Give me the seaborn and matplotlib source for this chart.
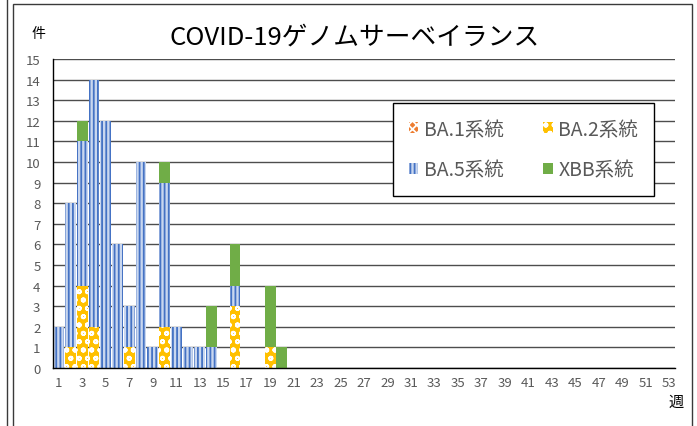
# COVID-19ゲノムサーベイランス: 週別の系統別件数 (積み上げ棒グラフ)

import pandas as pd
import matplotlib
matplotlib.use("Agg")
import matplotlib.pyplot as plt
from matplotlib.patches import Patch, Rectangle
from matplotlib.lines import Line2D
import seaborn as sns

# データ (週 1-53)
weeks = list(range(1, 54))
ba1 = [0, 0, 0, 0, 0, 0, 0, 0, 0, 0, 0, 0, 0, 0, 0, 0, 0, 0, 0, 0,
       0, 0, 0, 0, 0, 0, 0, 0, 0, 0, 0, 0, 0, 0, 0, 0, 0, 0, 0, 0,
       0, 0, 0, 0, 0, 0, 0, 0, 0, 0, 0, 0, 0]
ba2 = [0, 1, 4, 2, 0, 0, 1, 0, 0, 2, 0, 0, 0, 0, 0, 3, 0, 0, 1, 0,
       0, 0, 0, 0, 0, 0, 0, 0, 0, 0, 0, 0, 0, 0, 0, 0, 0, 0, 0, 0,
       0, 0, 0, 0, 0, 0, 0, 0, 0, 0, 0, 0, 0]
ba5 = [2, 7, 7, 12, 12, 6, 2, 10, 1, 7, 2, 1, 1, 1, 0, 1, 0, 0, 0, 0,
       0, 0, 0, 0, 0, 0, 0, 0, 0, 0, 0, 0, 0, 0, 0, 0, 0, 0, 0, 0,
       0, 0, 0, 0, 0, 0, 0, 0, 0, 0, 0, 0, 0]
xbb = [0, 0, 1, 0, 0, 0, 0, 0, 0, 1, 0, 0, 0, 2, 0, 2, 0, 0, 3, 1,
       0, 0, 0, 0, 0, 0, 0, 0, 0, 0, 0, 0, 0, 0, 0, 0, 0, 0, 0, 0,
       0, 0, 0, 0, 0, 0, 0, 0, 0, 0, 0, 0, 0]
series_labels = ["BA.1系統", "BA.2系統", "BA.5系統", "XBB系統"]

sns.set_style("white")
plt.rcParams['font.family'] = ['Noto Sans CJK JP', 'DejaVu Sans']
plt.rcParams['hatch.linewidth'] = 1.3

df = pd.DataFrame({'週': weeks, 'BA.1': ba1, 'BA.2': ba2, 'BA.5': ba5, 'XBB': xbb})
# 累積値 (上に重ねて描く)
df['c1'] = df['BA.1']
df['c2'] = df['c1'] + df['BA.2']
df['c3'] = df['c2'] + df['BA.5']
df['c4'] = df['c3'] + df['XBB']

fig = plt.figure(figsize=(6.97, 4.27), dpi=100)
ax = fig.add_axes([53 / 697, 1 - 369 / 427, 622 / 697, 309 / 427])

# (列, 塗り色, ハッチ色, ハッチ)
styles = [
    ('c4', '#70AD47', '#70AD47', None),
    ('c3', '#C9D7EF', '#4472C4', '||||'),
    ('c2', '#FFC000', 'white', 'oo'),
    ('c1', '#ED7D31', 'white', 'xxxx'),
]
for col, fc, ec, hatch in styles:
    sns.barplot(data=df, x='週', y=col, order=weeks, color=fc, saturation=1,
                width=0.92, errorbar=None, ax=ax)
    for p in ax.containers[-1]:
        p.set_facecolor(fc)
        p.set_edgecolor(ec)
        p.set_hatch(hatch)
        p.set_linewidth(0)

ax.set_ylim(0, 15)
ax.set_xlim(-0.5, 52.5)
ax.set_yticks(range(0, 16))
ax.set_xticks(range(0, 53, 2))
ax.set_xticklabels([str(w) for w in weeks[::2]])
ax.set_xlabel('')
ax.set_ylabel('')
ax.tick_params(length=0, labelsize=9.5, labelcolor='#595959')
ax.tick_params(axis='x', pad=6)
ax.tick_params(axis='y', pad=9)
ax.yaxis.grid(True, color='#4d4d4d', lw=1)
ax.set_axisbelow(True)
for s in ['top', 'right']:
    ax.spines[s].set_visible(False)
for s in ['left', 'bottom']:
    ax.spines[s].set_color('black')
    ax.spines[s].set_linewidth(1)

# タイトルと軸ラベル
fig.text(355 / 697, 1 - 38 / 427, 'COVID-19ゲノムサーベイランス', ha='center', va='center',
         fontsize=18.5, color='black')
fig.text(38 / 697, 1 - 34 / 427, '件', ha='center', va='center', fontsize=10, color='black')
fig.text(676 / 697, 1 - 402 / 427, '週', ha='center', va='center', fontsize=11, color='black')

# 凡例
handles = [
    Patch(facecolor='#ED7D31', edgecolor='white', hatch='xxxx', lw=0),
    Patch(facecolor='#C9D7EF', edgecolor='#4472C4', hatch='||||', lw=0),
    Patch(facecolor='#FFC000', edgecolor='white', hatch='oo', lw=0),
    Patch(facecolor='#70AD47', edgecolor='#70AD47', lw=0),
]
labels = [series_labels[0], series_labels[2], series_labels[1], series_labels[3]]
leg = fig.legend(handles, labels, ncol=2, loc='upper left',
                 bbox_to_anchor=(393 / 697, 1 - 104 / 427), borderaxespad=0,
                 frameon=True, fancybox=False, edgecolor='black', framealpha=1,
                 fontsize=14, handlelength=0.5, handleheight=0.5, handletextpad=0.3,
                 columnspacing=2.0, labelspacing=1.0, borderpad=0.8)
leg.get_frame().set_linewidth(1)
for t in leg.get_texts():
    t.set_color('#595959')

# 外枠
fig.add_artist(Rectangle((13.5 / 697, -0.05), (692 - 13.5) / 697, 1.05 - 4.5 / 427,
                         transform=fig.transFigure, fill=False, ec='#3a3a3a', lw=1))
fig.add_artist(Line2D([6.5 / 697, 6.5 / 697], [0, 1], transform=fig.transFigure,
                      color='#3a3a3a', lw=1))

fig.savefig('out.png', dpi=100)
